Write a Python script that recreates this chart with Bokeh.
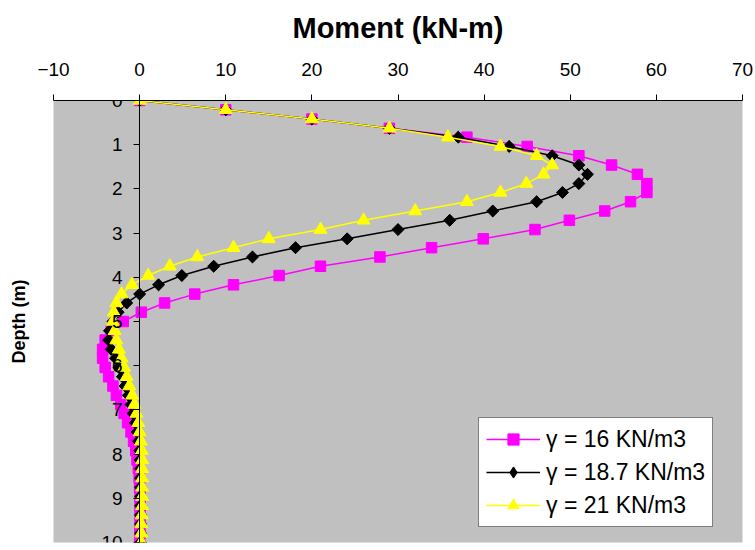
import numpy as np
from bokeh.plotting import figure
from bokeh.models import (LinearAxis, FixedTicker, Range1d, Legend, LegendItem)
from bokeh.embed import file_html
from bokeh.resources import INLINE

# ---- data ----
depth = [0.00, 0.21, 0.42, 0.63, 0.83, 1.04, 1.25, 1.46, 1.67, 1.88,
         2.08, 2.29, 2.50, 2.71, 2.92, 3.13, 3.33, 3.54, 3.75, 3.96,
         4.17, 4.38, 4.58, 4.79, 5.00, 5.21, 5.42, 5.63, 5.83, 6.04,
         6.25, 6.46, 6.67, 6.88, 7.08, 7.29, 7.50, 7.71, 7.92, 8.13,
         8.33, 8.54, 8.75, 8.96, 9.17, 9.38, 9.58, 9.79, 10.00]

moment_16 = [0, 10, 20, 29, 38, 45, 51, 54.8, 57.8, 58.9,
             58.9, 57.0, 54.0, 49.9, 45.9, 39.9, 33.9, 27.9, 21.0, 16.2,
             10.9, 6.4, 2.9, 0.2, -1.9, -3.3, -4.0, -4.3, -4.3, -4.0,
             -3.6, -3.1, -2.7, -2.2, -1.8, -1.4, -1.0, -0.7, -0.45, -0.3,
             -0.15, -0.05, 0.0, 0.05, 0.05, 0.05, 0.05, 0.03, 0.0]

moment_187 = [0, 10, 20, 29, 37, 42.9, 47.9, 51.0, 52.0, 51.0,
              49.1, 46.1, 41.0, 36.0, 30.0, 24.1, 18.1, 13.1, 8.6, 4.9,
              2.2, 0.0, -1.5, -2.5, -3.1, -3.5, -3.6, -3.3, -2.8, -2.4,
              -2.0, -1.7, -1.3, -1.0, -0.75, -0.5, -0.3, -0.15, 0.0, 0.05,
              0.1, 0.1, 0.1, 0.1, 0.1, 0.1, 0.1, 0.1, 0.1]

moment_21 = [0, 10, 20, 29, 35.8, 41.9, 46.1, 47.9, 46.9, 44.9,
             41.9, 38.0, 32.0, 26.0, 21.0, 15.0, 10.9, 6.7, 3.5, 1.0,
             -0.9, -2.1, -2.7, -3.0, -3.1, -2.9, -2.7, -2.4, -2.1, -1.8,
             -1.5, -1.2, -0.85, -0.6, -0.35, -0.15, 0.0, 0.15, 0.25, 0.3,
             0.3, 0.3, 0.3, 0.3, 0.3, 0.25, 0.2, 0.2, 0.2]

series_labels = ["γ = 16 KN/m3", "γ = 18.7 KN/m3", "γ = 21 KN/m3"]
x_ticks = [-10, 0, 10, 20, 30, 40, 50, 60, 70]
y_ticks = [0, 1, 2, 3, 4, 5, 6, 7, 8, 9, 10]

FONT = "Liberation Sans"

p = figure(width=755, height=550, output_backend="svg", toolbar_location=None,
           x_range=Range1d(-10, 70), y_range=Range1d(10, 0),
           x_axis_location=None, y_axis_location=None,
           min_border_left=53, min_border_right=13,
           min_border_top=100, min_border_bottom=8)
p.background_fill_color = "#C0C0C0"
p.border_fill_color = "white"
p.outline_line_color = None
p.grid.visible = False

# top axis with title
xaxis = LinearAxis(ticker=FixedTicker(ticks=x_ticks), axis_label="Moment (kN-m)")
xaxis.major_tick_out = 6
xaxis.major_tick_in = 0
xaxis.minor_tick_out = 0
xaxis.minor_tick_in = 0
xaxis.axis_line_color = "black"
xaxis.major_tick_line_color = "black"
xaxis.major_label_text_font = FONT
xaxis.major_label_text_font_size = "19px"
xaxis.major_label_text_color = "black"
xaxis.major_label_standoff = 19
xaxis.axis_label_text_font = FONT
xaxis.axis_label_text_font_size = "29px"
xaxis.axis_label_text_font_style = "bold"
xaxis.axis_label_text_color = "black"
xaxis.axis_label_standoff = 16
p.add_layout(xaxis, "above")

# depth axis crossing at moment = 0
yaxis = LinearAxis(ticker=FixedTicker(ticks=y_ticks), fixed_location=0)
yaxis.major_tick_out = 6
yaxis.major_tick_in = 0
yaxis.minor_tick_out = 0
yaxis.minor_tick_in = 0
yaxis.axis_line_color = "black"
yaxis.major_tick_line_color = "black"
yaxis.major_label_text_font = FONT
yaxis.major_label_text_font_size = "19px"
yaxis.major_label_text_color = "black"
yaxis.major_label_standoff = 11
p.add_layout(yaxis, "left")

# outer axis used only for the "Depth (m)" label
ylab = LinearAxis(ticker=FixedTicker(ticks=[]), axis_label="Depth (m)")
ylab.axis_line_color = None
ylab.major_tick_line_color = None
ylab.minor_tick_line_color = None
ylab.major_tick_out = 0
ylab.major_tick_in = 0
ylab.minor_tick_out = 0
ylab.minor_tick_in = 0
ylab.major_label_standoff = 0
ylab.axis_label_standoff = 25
ylab.axis_label_text_font = FONT
ylab.axis_label_text_font_size = "18px"
ylab.axis_label_text_font_style = "bold"
ylab.axis_label_text_color = "black"
p.add_layout(ylab, "left")

# series
l1 = p.line(moment_16, depth, line_color="#FF00FF", line_width=1.5)
s1 = p.scatter(moment_16, depth, marker="square", size=10.5,
               fill_color="#FF00FF", line_color="#FF00FF")
l2 = p.line(moment_187, depth, line_color="black", line_width=1.5)
# diamond drawn beneath the rotated squares; it is what the legend shows
s2_key = p.scatter(moment_187, depth, marker="diamond", size=11,
                   fill_color="black", line_color="black")
s2 = p.scatter(moment_187, depth, marker="square", angle=np.pi / 4, size=8.5,
               fill_color="black", line_color="black")
l3 = p.line(moment_21, depth, line_color="#FFFF00", line_width=1.5)
s3 = p.scatter(moment_21, depth, marker="triangle", size=13,
               fill_color="#FFFF00", line_color="#FFFF00")

legend = Legend(items=[LegendItem(label=series_labels[0], renderers=[l1, s1]),
                       LegendItem(label=series_labels[1], renderers=[l2, s2_key]),
                       LegendItem(label=series_labels[2], renderers=[l3, s3])],
                location=(425, 15))
legend.margin = 0
legend.padding = 7
legend.spacing = 5
legend.glyph_width = 54
legend.glyph_height = 28
legend.label_height = 28
legend.label_standoff = 6
legend.label_text_font = FONT
legend.label_text_font_size = "23px"
legend.label_text_color = "black"
legend.border_line_color = "black"
legend.border_line_width = 1
legend.background_fill_color = "white"
legend.background_fill_alpha = 1.0
p.add_layout(legend)

open("out.html", "w").write(file_html(p, INLINE))
